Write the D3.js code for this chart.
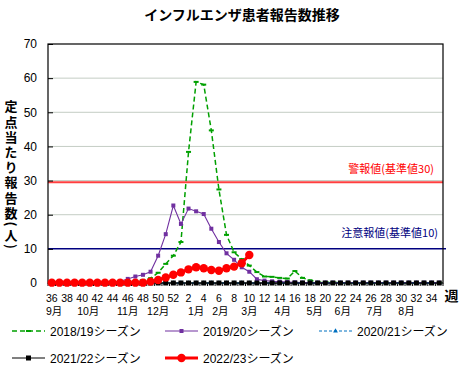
<!DOCTYPE html>
<html>
<head>
<meta charset="utf-8">
<script src="https://cdn.jsdelivr.net/npm/d3@7"></script>
<style>
  body { margin: 0; background: #fff; }
  svg { display: block; font-family: "Liberation Sans", Arial, "Noto Sans CJK JP", sans-serif; }
</style>
</head>
<body>
<svg id="chart" width="462" height="371"></svg>
<script>
// weeks 36..52, 1..35
const weeks = d3.range(36, 53).concat(d3.range(1, 36));
const weekLabels = weeks.filter((w, i) => i % 2 === 0);

const months = ["9月", "10月", "11月", "12月", "1月", "2月", "3月", "4月", "5月", "6月", "7月", "8月"];
// week index under which each month label sits
const monthAt = [0.3, 4.8, 10, 14, 19, 22.2, 26, 30.4, 34.6, 38.3, 42.5, 46.7];

const yTicks = [0, 10, 20, 30, 40, 50, 60, 70];

const s1819 = [0.1, 0.1, 0.1, 0.1, 0.1, 0.1, 0.1, 0.2, 0.2, 0.3, 0.4, 0.6, 0.9, 1.4, 3.0, 5.6, 8.0, 12.0,
  38.4, 58.9, 58.1, 44.7, 27.4, 14.1, 9.0, 7.0, 5.1, 3.2, 1.9, 1.8, 1.5, 1.3, 3.5, 1.5, 0.8, 0.3,
  0.2, 0.2, 0.1, 0.1, 0.1, 0.1, 0.1, 0.1, 0.1, 0.1, 0.1, 0.1, 0.1, 0.1, 0.1, 0.1];
const s1920 = [0.3, 0.6, 0.2, 0.2, 0.2, 0.2, 0.3, 0.3, 0.4, 0.5, 1.2, 1.9, 2.4, 3.3, 8.0, 14.3, 22.7, 17.3,
  21.8, 21.0, 20.2, 15.9, 12.0, 8.7, 6.8, 4.6, 3.3, 1.1, 0.7, 0.5, 0.4, 0.3, 0.2, 0.1, 0.1, 0.1,
  0.1, 0.1, 0.1, 0.1, 0.1, 0.1, 0.1, 0.1, 0.1, 0.1, 0.1, 0.1, 0.1, 0.1, 0.1, 0.1];
const s2021 = weeks.map(() => 0);
const s2122 = weeks.map(() => 0);
const s2223 = [0.1, 0.1, 0.1, 0.1, 0.1, 0.1, 0.1, 0.1, 0.1, 0.1, 0.1, 0.1, 0.1, 0.4, 0.9, 1.6, 2.4, 3.1,
  4.0, 4.6, 4.3, 3.8, 3.6, 4.3, 4.8, 5.8, 8.2];

const seasons = ["2018/19シーズン", "2019/20シーズン", "2020/21シーズン", "2021/22シーズン", "2022/23シーズン"];

const alertLevel = 30, cautionLevel = 10;

const svg = d3.select("#chart");
const plotL = 48, plotR = 443, plotT = 44, plotB = 283;

const x = d3.scaleBand().domain(d3.range(weeks.length)).range([plotL, plotR]);
const cx = i => x(0) + x.bandwidth() / 2 + i * x.step();
const y = d3.scaleLinear().domain([0, 70]).range([plotB, plotT]);

// title
svg.append("text")
  .attr("x", 242).attr("y", 20)
  .attr("text-anchor", "middle")
  .attr("font-family", "'Noto Sans CJK JP', sans-serif")
  .attr("font-weight", "bold").attr("font-size", 14)
  .text("インフルエンザ患者報告数推移");

// gridlines
svg.append("g").selectAll("line")
  .data(yTicks.filter(t => t > 0 && t < 70 && t !== cautionLevel))
  .join("line")
  .attr("x1", plotL).attr("x2", plotR)
  .attr("y1", d => y(d)).attr("y2", d => y(d))
  .attr("stroke", "#c4cdc4").attr("stroke-width", 1);

// alert / caution lines
svg.append("line")
  .attr("x1", plotL).attr("x2", plotR)
  .attr("y1", y(alertLevel) + 1.8).attr("y2", y(alertLevel) + 1.8)
  .attr("stroke", "#ff4040").attr("stroke-width", 2);
svg.append("line")
  .attr("x1", plotL).attr("x2", plotR + 3)
  .attr("y1", y(cautionLevel)).attr("y2", y(cautionLevel))
  .attr("stroke", "#000080").attr("stroke-width", 1.5);

svg.append("text")
  .attr("x", 434).attr("y", y(alertLevel) - 8)
  .attr("text-anchor", "end").attr("font-size", 11).attr("fill", "#ff0000")
  .attr("font-family", "'Noto Sans CJK JP', sans-serif")
  .text("警報値(基準値30)");
svg.append("text")
  .attr("x", 438).attr("y", y(cautionLevel) - 12)
  .attr("text-anchor", "end").attr("font-size", 11).attr("fill", "#000080")
  .attr("font-family", "'Noto Sans CJK JP', sans-serif")
  .text("注意報値(基準値10)");

// plot frame
svg.append("rect")
  .attr("x", plotL).attr("y", plotT)
  .attr("width", plotR - plotL).attr("height", plotB - plotT)
  .attr("fill", "none").attr("stroke", "#000").attr("stroke-width", 1.2);

// y axis
const yAxis = svg.append("g")
  .attr("transform", `translate(${plotL},0)`)
  .call(d3.axisLeft(y).tickValues(yTicks).tickSizeInner(-5).tickSizeOuter(0).tickPadding(11));
yAxis.select(".domain").remove();
yAxis.selectAll("line").attr("stroke", "#000");
yAxis.selectAll("text").attr("font-size", 12).attr("fill", "#000")
  .attr("font-family", "'Liberation Sans', Arial, sans-serif");

// x axis ticks between weeks
svg.append("g").selectAll("line")
  .data(d3.range(weeks.length + 1))
  .join("line")
  .attr("x1", i => plotL + i * x.step()).attr("x2", i => plotL + i * x.step())
  .attr("y1", plotB).attr("y2", plotB + 3)
  .attr("stroke", "#000");

svg.append("g").selectAll("text")
  .data(weekLabels)
  .join("text")
  .attr("x", (w, k) => cx(k * 2))
  .attr("y", 302)
  .attr("text-anchor", "middle").attr("font-size", 10.5)
  .attr("font-family", "'Liberation Sans', Arial, sans-serif")
  .text(w => w);

svg.append("g").selectAll("text")
  .data(months)
  .join("text")
  .attr("x", (m, k) => cx(monthAt[k]))
  .attr("y", 315)
  .attr("text-anchor", "middle").attr("font-size", 10.5)
  .text(m => m);

svg.append("text")
  .attr("x", 451.5).attr("y", 301)
  .attr("text-anchor", "middle").attr("font-size", 14).attr("font-weight", "bold")
  .attr("font-family", "'Noto Sans CJK JP', sans-serif")
  .text("週");

// y axis title, vertical
svg.append("text")
  .attr("x", 11).attr("y", 100)
  .attr("font-size", 13).attr("font-weight", "bold")
  .attr("font-family", "'Noto Sans CJK JP', sans-serif")
  .style("writing-mode", "vertical-rl")
  .style("letter-spacing", "2.2px")
  .text("定点当たり報告数(人)");

// series
const styles = [
  {data: s1819, color: "#00a000", width: 1.5, dash: "5,3", marker: "dash"},
  {data: s1920, color: "#7030a0", width: 1.1, dash: null, marker: "square", size: 4},
  {data: s2021, color: "#0070c0", width: 1.2, dash: "3,2", marker: "triangle"},
  {data: s2122, color: "#000000", width: 1, dash: null, marker: "square", size: 5},
  {data: s2223, color: "#ff0000", width: 3, dash: null, marker: "circle"}
];

const line = d3.line().x((d, i) => cx(i)).y(d => y(d));

function drawMarker(g, st, px, py) {
  if (st.marker === "square") {
    g.append("rect").attr("x", px - st.size / 2).attr("y", py - st.size / 2)
      .attr("width", st.size).attr("height", st.size).attr("fill", st.color);
  } else if (st.marker === "circle") {
    g.append("circle").attr("cx", px).attr("cy", py).attr("r", 4.2).attr("fill", st.color);
  } else if (st.marker === "triangle") {
    g.append("path").attr("d", d3.symbol(d3.symbolTriangle, 10)()).attr("transform", `translate(${px},${py})`)
      .attr("fill", st.color);
  } else if (st.marker === "dash") {
    g.append("rect").attr("x", px - 2.5).attr("y", py - 1).attr("width", 5).attr("height", 2)
      .attr("fill", st.color);
  }
}

styles.forEach(st => {
  const g = svg.append("g");
  g.append("path")
    .attr("d", line(st.data))
    .attr("fill", "none").attr("stroke", st.color)
    .attr("stroke-width", st.width)
    .attr("stroke-dasharray", st.dash);
  st.data.forEach((d, i) => drawMarker(g, st, cx(i), y(d)));
});

// legend
const legendPos = [[12, 331], [165, 331], [319, 331], [12, 358], [165, 358]];
seasons.forEach((name, k) => {
  const st = styles[k];
  const [lx, ly] = legendPos[k];
  const g = svg.append("g");
  g.append("line").attr("x1", lx).attr("x2", lx + 33).attr("y1", ly).attr("y2", ly)
    .attr("stroke", st.color).attr("stroke-width", st.width).attr("stroke-dasharray", st.dash);
  drawMarker(g, st, lx + 16.5, ly);
  g.append("text").attr("x", lx + 38).attr("y", ly + 4.5)
    .attr("font-size", 12).text(name);
});
</script>
</body>
</html>
